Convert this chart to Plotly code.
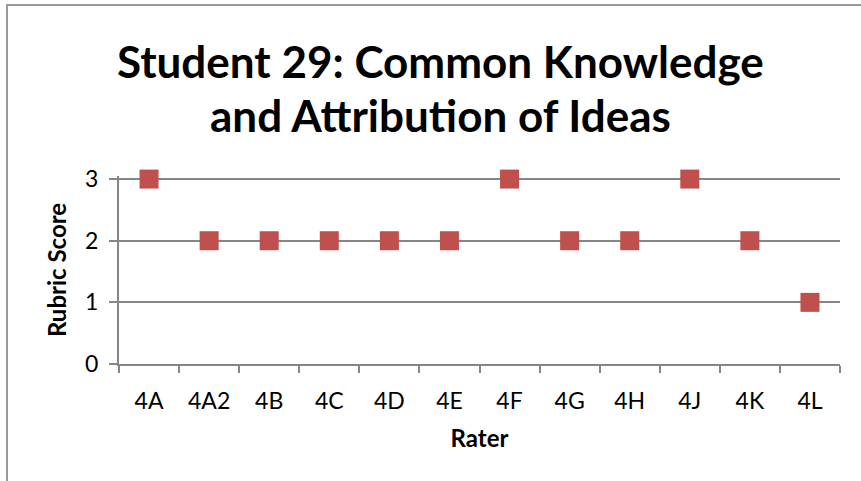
import plotly.graph_objects as go

raters = ["4A", "4A2", "4B", "4C", "4D", "4E", "4F", "4G", "4H", "4J", "4K", "4L"]
scores = [3, 2, 2, 2, 2, 2, 3, 2, 2, 3, 2, 1]
y_ticks = [0, 1, 2, 3]
title_lines = ["Student 29: Common Knowledge", "and Attribution of Ideas"]

FONT = "Lato"
GRID = "#868686"
W, H = 861, 481
L, R, T, B = 119, 21, 176, 117

fig = go.Figure()
fig.add_trace(go.Scatter(
    x=raters, y=scores, mode="markers",
    marker=dict(symbol="square", size=19, color="#C0504D", line=dict(width=0)),
    cliponaxis=False, showlegend=False,
))

fig.update_layout(
    width=W, height=H,
    margin=dict(l=L, r=R, t=T, b=B),
    paper_bgcolor="white", plot_bgcolor="white",
    font=dict(family=FONT, color="black"),
)

for i, (line, yc) in enumerate(zip(title_lines, [61, 115])):
    fig.add_annotation(
        text="<b>%s</b>" % line, xref="paper", yref="paper",
        x=(440 - L) / (W - L - R), y=1 + (T - yc) / (H - T - B),
        xanchor="center", yanchor="middle", showarrow=False,
        font=dict(family=FONT, size=44, color="black"),
    )

fig.update_xaxes(
    type="category", categoryorder="array", categoryarray=raters,
    range=[-0.5, len(raters) - 0.5],
    tickson="boundaries", ticks="outside", ticklen=7, tickwidth=2, tickcolor=GRID,
    showline=True, linecolor=GRID, linewidth=2,
    showgrid=False, tickfont=dict(size=23, family=FONT), ticklabelstandoff=15,
    title=dict(text="<b>Rater</b>", font=dict(size=24, family=FONT), standoff=18),
)
fig.update_yaxes(
    range=[0, 3.05], tickvals=y_ticks, ticks="outside", ticklen=8, tickwidth=2, tickcolor=GRID,
    showline=True, linecolor=GRID, linewidth=2,
    showgrid=True, gridcolor=GRID, gridwidth=2, zeroline=False,
    tickfont=dict(size=23, family=FONT), ticklabelstandoff=6,
    title=dict(text="<b>Rubric Score</b>", font=dict(size=24, family=FONT), standoff=12),
)

fig.add_shape(type="rect", xref="paper", yref="paper",
              x0=-(L - 7) / (W - L - R), x1=1.5,
              y0=-1, y1=1 + (T - 5) / (H - T - B),
              line=dict(color="#9a9a9a", width=2), fillcolor="rgba(0,0,0,0)", layer="below")

fig.write_html("out.html", config={"displayModeBar": False},
               post_script="document.body.style.margin='0';")
